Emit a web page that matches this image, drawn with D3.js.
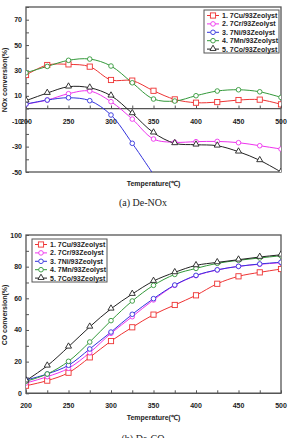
<!DOCTYPE html>
<html>
<head>
<meta charset="utf-8">
<script src="https://cdn.jsdelivr.net/npm/d3@7"></script>
<style>
  body { margin: 0; background: #fff; }
  svg { display: block; }
  text { font-family: "Liberation Sans", Arial, sans-serif; }
</style>
</head>
<body>
<svg id="chart" width="288" height="438"></svg>
<script>
var temps = [200, 225, 250, 275, 300, 325, 350, 375, 400, 425, 450, 475, 500];
var names = ["1. 7Cu/93Zeolyst", "2. 7Cr/93Zeolyst", "3. 7Ni/93Zeolyst", "4. 7Mn/93Zeolyst", "5. 7Co/93Zeolyst"];
var colors = ["#ee3333", "#ee33ee", "#3333dd", "#33993a", "#222222"];
var shapes = ["square", "circle", "circle", "circle", "triangle"];

// De-NOx conversion (%)
var noxCu = [26.4, 34.3, 34.8, 33, 22.5, 22, 14, 7.2, 4.6, 5.1, 6.7, 7, 3.3];
var noxCr = [3.5, 6.7, 11.7, 13.8, 5.4, -8.3, -24, -26.6, -26.1, -25.9, -26.9, -29.3, -31.9];
var noxNi = [3.5, 6.7, 8.5, 6.2, -5.1, -27.4, -52];
var noxMn = [28.2, 33.2, 38, 39, 33.5, 20.3, 7.5, 5.9, 10.1, 13.8, 14.8, 13.2, 8.8];
var noxCo = [6.2, 12.2, 17.2, 16.4, 10.1, -3.8, -19, -27.4, -28.5, -29.3, -34, -40.8, -50];

// De-CO conversion (%)
var coCu = [4.8, 8, 13, 22.7, 33, 41.7, 49.7, 55.8, 61.9, 69.2, 73.9, 76.4, 78.5];
var coCr = [6.5, 10.5, 15.8, 25.7, 37.9, 48.4, 59, 68.2, 74.3, 77.9, 80.2, 81.5, 82.5];
var coNi = [8.4, 12.2, 17.7, 28, 38.7, 49.9, 59.8, 68.4, 74.5, 78, 80.2, 81.7, 82.8];
var coMn = [7.6, 12.2, 20.2, 32.4, 45.9, 58.3, 68.2, 75.1, 78.9, 82.1, 84, 85.5, 86.9];
var coCo = [8, 17.4, 29.4, 42, 53.4, 62.7, 70.9, 76.4, 80.8, 82.7, 84.4, 86.1, 87.5];

var noxTicks = [-50, -30, -10, 10, 30, 50, 70];
var coTicks = [0, 20, 40, 60, 80, 100];
var xTicks = [200, 250, 300, 350, 400, 450, 500];

var svg = d3.select("#chart");

function drawMarker(g, shape, color, x, y) {
  if (shape === "square") {
    g.append("rect").attr("x", x - 2.6).attr("y", y - 2.6).attr("width", 5.2).attr("height", 5.2)
      .attr("fill", "#fff").attr("stroke", color).attr("stroke-width", 0.9);
  } else if (shape === "triangle") {
    g.append("path").attr("d", d3.symbol(d3.symbolTriangle, 16)()).attr("transform", "translate(" + x + "," + (y - 0.4) + ")")
      .attr("fill", "#fff").attr("stroke", color).attr("stroke-width", 0.9);
  } else {
    g.append("circle").attr("cx", x).attr("cy", y).attr("r", 2.3)
      .attr("fill", "#fff").attr("stroke", color).attr("stroke-width", 0.9);
  }
}

function panel(cfg) {
  var x = d3.scaleLinear().domain([200, 500]).range([cfg.left, cfg.right]);
  var y = d3.scaleLinear().domain(cfg.yDomain).range([cfg.bottom, cfg.top]);
  var g = svg.append("g");
  var id = "clip" + cfg.key;

  svg.append("clipPath").attr("id", id).append("rect")
    .attr("x", cfg.left).attr("y", cfg.top).attr("width", cfg.right - cfg.left).attr("height", cfg.bottom - cfg.top);

  // frame
  g.append("rect").attr("x", cfg.left).attr("y", cfg.top)
    .attr("width", cfg.right - cfg.left).attr("height", cfg.bottom - cfg.top)
    .attr("fill", "none").attr("stroke", "#555").attr("stroke-width", 1.3);

  // y axis ticks inside
  var yAxis = d3.axisRight(y).tickValues(d3.range(cfg.yDomain[0], cfg.yDomain[1] + 0.1, cfg.yMinor)).tickSize(3).tickFormat("");
  g.append("g").attr("transform", "translate(" + cfg.left + ",0)").call(yAxis)
    .call(function (a) { a.select(".domain").remove(); a.selectAll("line").attr("stroke", "#555"); });

  g.selectAll(".ylab").data(cfg.yTicks).enter().append("text")
    .attr("x", cfg.left - 4).attr("y", function (d) { return y(d) + 2.5; })
    .attr("text-anchor", "end").attr("font-size", 7).attr("font-weight", "bold").attr("fill", "#222")
    .text(function (d) { return d; });

  // x axis at zero
  var y0 = y(0);
  g.append("line").attr("x1", cfg.left).attr("x2", cfg.right).attr("y1", y0).attr("y2", y0)
    .attr("stroke", "#555").attr("stroke-width", 1.3);
  var xAxis = d3.axisTop(x).tickValues(d3.range(200, 501, 25)).tickSize(3).tickFormat("");
  g.append("g").attr("transform", "translate(0," + y0 + ")").call(xAxis)
    .call(function (a) { a.select(".domain").remove(); a.selectAll("line").attr("stroke", "#555"); });

  g.selectAll(".xlab").data(xTicks).enter().append("text")
    .attr("x", function (d) { return x(d); }).attr("y", y0 + cfg.xLabOff)
    .attr("text-anchor", "middle").attr("font-size", 7).attr("font-weight", "bold").attr("fill", "#222")
    .text(function (d) { return d; });

  // titles
  g.append("text").attr("x", (cfg.left + cfg.right) / 2).attr("y", cfg.xTitleY)
    .attr("text-anchor", "middle").attr("font-size", 7).attr("font-weight", "bold").attr("fill", "#222")
    .text("Temperature(℃)");
  g.append("text").attr("transform", "translate(7," + cfg.yTitleY + ") rotate(-90)")
    .attr("text-anchor", "middle").attr("font-size", 7).attr("font-weight", "bold").attr("fill", "#222")
    .text(cfg.yTitle);
  g.append("text").attr("x", 143).attr("y", cfg.captionY)
    .attr("text-anchor", "middle").attr("font-size", 10).attr("fill", "#222")
    .style("font-family", "'Liberation Serif', 'DejaVu Serif', serif")
    .text(cfg.caption);

  // series
  var line = d3.line().curve(d3.curveCatmullRom.alpha(0.5))
    .x(function (d, i) { return x(temps[i]); }).y(function (d) { return y(d); });
  var plot = g.append("g").attr("clip-path", "url(#" + id + ")");
  cfg.series.forEach(function (s, k) {
    plot.append("path").attr("d", line(s)).attr("fill", "none")
      .attr("stroke", colors[k]).attr("stroke-width", 1);
  });
  cfg.series.forEach(function (s, k) {
    s.forEach(function (v, i) {
      if (v >= cfg.yDomain[0]) drawMarker(plot, shapes[k], colors[k], x(temps[i]), y(v));
    });
  });

  // legend
  var lg = g.append("g");
  lg.append("rect").attr("x", cfg.legX).attr("y", cfg.legY).attr("width", 75).attr("height", 43)
    .attr("fill", "#fff").attr("stroke", "#555").attr("stroke-width", 1);
  names.forEach(function (n, k) {
    var ly = cfg.legY + 5.5 + k * 8.4;
    lg.append("line").attr("x1", cfg.legX + 3).attr("x2", cfg.legX + 15).attr("y1", ly).attr("y2", ly)
      .attr("stroke", colors[k]).attr("stroke-width", 1);
    drawMarker(lg, shapes[k], colors[k], cfg.legX + 9, ly);
    lg.append("text").attr("x", cfg.legX + 18).attr("y", ly + 2.5)
      .attr("font-size", 7).attr("font-weight", "bold").attr("fill", "#222")
      .text(n);
  });
}

panel({
  key: "a", left: 26, right: 281, top: 7, bottom: 172, yDomain: [-50, 80], yMinor: 10,
  yTicks: noxTicks, xLabOff: 15, xTitleY: 186, yTitleY: 80, yTitle: "NOx conversion(%)",
  captionY: 206, caption: "(a)  De-NOx", legX: 204, legY: 10,
  series: [noxCu, noxCr, noxNi, noxMn, noxCo]
});

panel({
  key: "b", left: 26, right: 281, top: 235, bottom: 393.3, yDomain: [0, 100], yMinor: 10,
  yTicks: coTicks, xLabOff: 15, xTitleY: 420, yTitleY: 315, yTitle: "CO conversion(%)",
  captionY: 442, caption: "(b)  De-CO", legX: 32, legY: 239,
  series: [coCu, coCr, coNi, coMn, coCo]
});
</script>
</body>
</html>
